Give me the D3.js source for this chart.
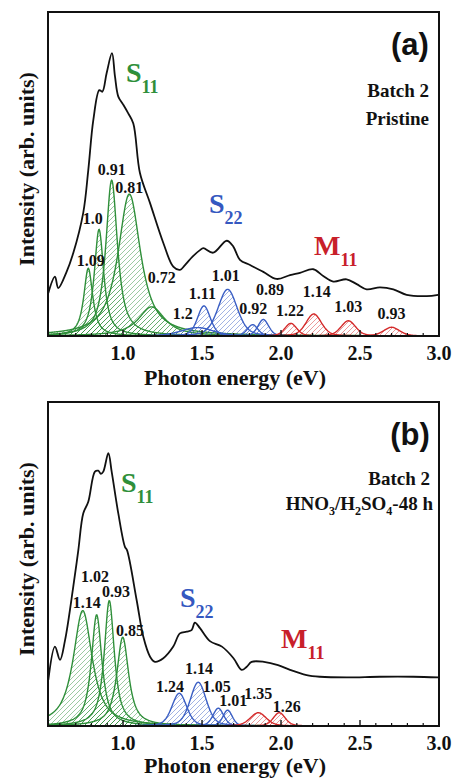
<!DOCTYPE html>
<html><head><meta charset="utf-8">
<script src="https://cdn.jsdelivr.net/npm/d3@7"></script>
<style>body{margin:0;background:#fff}svg{display:block}</style>
</head><body><svg id="c" width="453" height="779"></svg>
<script>
// ---------- DATA ----------
const xTicks = [1.0, 1.5, 2.0, 2.5, 3.0];
const xTickLabels = ["1.0", "1.5", "2.0", "2.5", "3.0"];

// Panel (a): Batch 2 Pristine — measured absorption spectrum
const specA_E = [0.527,0.569,0.590,0.640,0.685,0.748,0.780,0.812,0.850,0.869,0.896,0.930,0.949,0.970,1.000,1.033,1.065,1.107,1.171,1.255,1.318,1.360,1.392,1.440,1.487,1.508,1.571,1.656,1.698,1.740,1.804,1.888,1.972,2.057,2.120,2.204,2.267,2.331,2.415,2.479,2.542,2.626,2.711,2.795,2.922,2.995];
const specA_I = [13.3,18.3,14.8,19.5,25.6,38.0,51.2,66.7,75.9,75.4,81.1,87.3,80.1,73.9,71.5,68.7,65.6,50.3,41.0,28.7,21.4,20.4,21.9,24.5,26.5,27.1,25.7,29.4,27.6,23.5,21.9,19.8,17.6,18.8,19.5,20.6,18.5,16.8,17.5,16.0,14.4,15.0,14.4,12.7,12.3,12.7];

// Panel (a) fitted components: centre (eV), height, half width (eV), label, label anchor (eV, intensity)
const a_S11_center = [0.780, 0.848, 0.928, 1.040, 1.181];
const a_S11_height = [20.9, 32.9, 48.1, 43.8, 9.0];
const a_S11_width  = [0.034, 0.036, 0.044, 0.085, 0.10];
const a_S11_label  = ["1.09", "1.0", "0.91", "0.81", "0.72"];
const a_S11_labE   = [0.795, 0.808, 0.928, 1.040, 1.245];
const a_S11_labI   = [23.2, 36.3, 51.5, 45.9, 18.1];

const a_S22_center = [1.470, 1.512, 1.662, 1.820, 1.888];
const a_S22_height = [2.6, 9.3, 14.4, 3.5, 5.1];
const a_S22_width  = [0.12, 0.048, 0.072, 0.04, 0.04];
const a_S22_label  = ["1.2", "1.11", "1.01", "0.92", "0.89"];
const a_S22_labE   = [1.378, 1.502, 1.650, 1.824, 1.930];
const a_S22_labI   = [7.0, 13.2, 18.6, 8.5, 14.4];

const a_M11_center = [2.062, 2.207, 2.426, 2.700];
const a_M11_height = [3.9, 6.8, 4.7, 2.7];
const a_M11_width  = [0.045, 0.058, 0.055, 0.06];
const a_M11_label  = ["1.22", "1.14", "1.03", "0.93"];
const a_M11_labE   = [2.057, 2.226, 2.426, 2.700];
const a_M11_labI   = [7.8, 13.9, 9.0, 7.0];

// Panel (b): Batch 2 HNO3/H2SO4-48 h — measured spectrum
const specB_E = [0.527,0.569,0.601,0.633,0.685,0.717,0.748,0.780,0.822,0.843,0.860,0.875,0.907,0.928,0.970,1.012,1.025,1.086,1.128,1.171,1.202,1.255,1.318,1.360,1.403,1.434,1.455,1.487,1.550,1.626,1.698,1.751,1.783,1.814,1.892,1.981,2.057,2.162,2.247,2.416,2.626,2.837,2.995];
const specB_I = [14.2,24.5,20.4,26.5,43.0,54.3,65.6,69.2,78.5,78.8,77.8,78.5,84.2,78.5,65.6,55.3,54.3,38.9,27.6,21.4,19.8,20.9,24.5,28.6,29.1,29.6,31.9,30.2,26.2,24.5,21.0,17.3,18.3,19.8,19.8,18.8,17.3,15.7,15.2,15.0,15.2,15.2,15.0];

const b_S11_center = [0.745, 0.833, 0.913, 0.998];
const b_S11_height = [35.6, 34.3, 38.7, 27.4];
const b_S11_width  = [0.072, 0.040, 0.038, 0.045];
const b_S11_label  = ["1.14", "1.02", "0.93", "0.85"];
const b_S11_labE   = [0.770, 0.822, 0.955, 1.044];
const b_S11_labI   = [38.1, 46.3, 41.5, 29.6];

const b_S22_center = [1.356, 1.476, 1.603, 1.662];
const b_S22_height = [10.1, 13.5, 5.5, 4.9];
const b_S22_width  = [0.055, 0.06, 0.04, 0.035];
const b_S22_label  = ["1.24", "1.14", "1.05", "1.01"];
const b_S22_labE   = [1.297, 1.481, 1.593, 1.698];
const b_S22_labI   = [12.3, 17.8, 12.3, 7.8];

const b_M11_center = [1.856, 1.989];
const b_M11_height = [4.1, 4.1];
const b_M11_width  = [0.06, 0.045];
const b_M11_label  = ["1.35", "1.26"];
const b_M11_labE   = [1.856, 2.036];
const b_M11_labI   = [10.1, 6.2];

// ---------- DRAW ----------
const svg = d3.select("#c");
const COL = {S11: "#2f8f3a", S22: "#3b5fc4", M11: "#d42a2a"};
const TXT = {S11: "#2f8f3a", S22: "#3558c0", M11: "#c8202a"};
const SERIF = "'Liberation Serif','Times New Roman',serif";

const defs = svg.append("defs");
Object.entries(COL).forEach(([k, c]) => {
  const p = defs.append("pattern").attr("id", "h" + k).attr("patternUnits", "userSpaceOnUse")
    .attr("width", 5).attr("height", 5);
  p.append("path").attr("d", "M-1,1 l2,-2 M0,5 l5,-5 M4,6 l2,-2")
    .attr("stroke", c).attr("stroke-width", 0.8).attr("stroke-opacity", 0.6);
});

function shape(E, c, h, w, eta) {
  const u = (E - c) / w;
  return h * (eta / (1 + u * u) + (1 - eta) * Math.exp(-Math.LN2 * u * u));
}

function panel(opt) {
  const top = opt.top, bottom = opt.top + 324, left = 48, right = 439;
  const x = d3.scaleLinear().domain([0.525, 3.0]).range([left, right]);
  const y = d3.scaleLinear().domain([0, 100]).range([bottom, top]);
  const g = svg.append("g");
  const cid = "clip" + opt.name;
  defs.append("clipPath").attr("id", cid).append("rect")
    .attr("x", left).attr("y", top).attr("width", right - left).attr("height", bottom - top + 1);
  const pg = g.append("g").attr("clip-path", `url(#${cid})`);
  const grid = d3.range(0.525, 3.0001, 0.003);

  opt.groups.forEach(gr => {
    gr.center.forEach((c, i) => {
      const pts = grid.map(E => [E, shape(E, c, gr.height[i], gr.width[i], gr.eta)]);
      const area = d3.area().x(d => x(d[0])).y0(y(0)).y1(d => y(d[1]));
      const line = d3.line().x(d => x(d[0])).y(d => y(d[1]));
      pg.append("path").attr("d", area(pts)).attr("fill", `url(#h${gr.key})`);
      pg.append("path").attr("d", line(pts)).attr("fill", "none")
        .attr("stroke", COL[gr.key]).attr("stroke-width", 1.4);
    });
  });

  const spec = opt.specE.map((E, i) => [E, opt.specI[i]]);
  pg.append("path").attr("d", d3.line().x(d => x(d[0])).y(d => y(d[1])).curve(d3.curveCatmullRom.alpha(0.5))(spec))
    .attr("fill", "none").attr("stroke", "#111").attr("stroke-width", 1.8);

  // peak value labels
  opt.groups.forEach(gr => {
    gr.label.forEach((t, i) => {
      g.append("text").attr("x", x(gr.labE[i])).attr("y", y(gr.labI[i])).attr("dy", "0.35em")
        .attr("text-anchor", "middle").attr("font-family", SERIF).attr("font-weight", "bold")
        .attr("font-size", 16).attr("fill", "#111").text(t);
    });
  });

  // group labels
  opt.groupLabels.forEach(gl => {
    const t = g.append("text").attr("x", gl.x).attr("y", top + gl.y).attr("font-family", SERIF)
      .attr("font-weight", "bold").attr("fill", TXT[gl.key]);
    t.append("tspan").attr("font-size", 28).text(gl.main);
    t.append("tspan").attr("font-size", 18).attr("dy", 11).text(gl.sub);
  });

  // ticks (inside)
  const minor = d3.range(0.6, 3.0, 0.1).filter(v => Math.abs(v * 2 - Math.round(v * 2)) > 0.01);
  g.selectAll(null).data(minor).enter().append("line")
    .attr("x1", d => x(d)).attr("x2", d => x(d)).attr("y1", bottom).attr("y2", bottom - 3)
    .attr("stroke", "#111").attr("stroke-width", 1.2);
  g.selectAll(null).data(xTicks.slice(0, 4)).enter().append("line")
    .attr("x1", d => x(d)).attr("x2", d => x(d)).attr("y1", bottom).attr("y2", bottom - 6)
    .attr("stroke", "#111").attr("stroke-width", 1.4);
  // frame
  g.append("rect").attr("x", left).attr("y", top).attr("width", right - left).attr("height", bottom - top)
    .attr("fill", "none").attr("stroke", "#111").attr("stroke-width", 2);

  // tick labels
  g.selectAll(null).data(xTicks).enter().append("text")
    .attr("x", d => x(d)).attr("y", bottom + 17).attr("dy", "0.35em")
    .attr("text-anchor", "middle").attr("font-family", SERIF).attr("font-weight", "bold")
    .attr("font-size", 20).attr("fill", "#111").text((d, i) => xTickLabels[i]);
  g.append("text").attr("x", 235).attr("y", bottom + opt.titleOff).attr("dy", "0.35em").attr("text-anchor", "middle")
    .attr("font-family", SERIF).attr("font-weight", "bold").attr("font-size", 22).attr("fill", "#111")
    .text("Photon energy (eV)");
  g.append("text").attr("transform", `translate(26,${top + 157}) rotate(-90)`).attr("dy", "0.35em")
    .attr("text-anchor", "middle").attr("font-family", SERIF).attr("font-weight", "bold")
    .attr("font-size", 22).attr("fill", "#111").text("Intensity (arb. units)");

  // panel tag & description
  g.append("text").attr("x", 410).attr("y", top + 32).attr("dy", "0.35em").attr("text-anchor", "middle")
    .attr("font-family", "'Liberation Sans',Arial,sans-serif").attr("font-weight", "bold")
    .attr("font-size", 31).attr("fill", "#111").text(opt.tag);
  opt.desc(g, top);
}

panel({
  name: "a", top: 12, tag: "(a)", titleOff: 41, specE: specA_E, specI: specA_I,
  groups: [
    {key: "S11", eta: 0.9, center: a_S11_center, height: a_S11_height, width: a_S11_width, label: a_S11_label, labE: a_S11_labE, labI: a_S11_labI},
    {key: "S22", eta: 0.35, center: a_S22_center, height: a_S22_height, width: a_S22_width, label: a_S22_label, labE: a_S22_labE, labI: a_S22_labI},
    {key: "M11", eta: 0.35, center: a_M11_center, height: a_M11_height, width: a_M11_width, label: a_M11_label, labE: a_M11_labE, labI: a_M11_labI}
  ],
  groupLabels: [
    {key: "S11", main: "S", sub: "11", x: 126, y: 70},
    {key: "S22", main: "S", sub: "22", x: 209, y: 201},
    {key: "M11", main: "M", sub: "11", x: 314, y: 243}
  ],
  desc: (g, top) => {
    [["Batch 2", 78], ["Pristine", 106]].forEach(([t, yy]) => {
      g.append("text").attr("x", 429).attr("y", top + yy).attr("dy", "0.35em").attr("text-anchor", "end")
        .attr("font-family", SERIF).attr("font-weight", "bold").attr("font-size", 19).attr("fill", "#111").text(t);
    });
  }
});

panel({
  name: "b", top: 402, tag: "(b)", titleOff: 39, specE: specB_E, specI: specB_I,
  groups: [
    {key: "S11", eta: 0.9, center: b_S11_center, height: b_S11_height, width: b_S11_width, label: b_S11_label, labE: b_S11_labE, labI: b_S11_labI},
    {key: "S22", eta: 0.35, center: b_S22_center, height: b_S22_height, width: b_S22_width, label: b_S22_label, labE: b_S22_labE, labI: b_S22_labI},
    {key: "M11", eta: 0.35, center: b_M11_center, height: b_M11_height, width: b_M11_width, label: b_M11_label, labE: b_M11_labE, labI: b_M11_labI}
  ],
  groupLabels: [
    {key: "S11", main: "S", sub: "11", x: 121, y: 90},
    {key: "S22", main: "S", sub: "22", x: 180, y: 205},
    {key: "M11", main: "M", sub: "11", x: 281, y: 246}
  ],
  desc: (g, top) => {
    g.append("text").attr("x", 430).attr("y", top + 76).attr("dy", "0.35em").attr("text-anchor", "end")
      .attr("font-family", SERIF).attr("font-weight", "bold").attr("font-size", 19).attr("fill", "#111").text("Batch 2");
    const t = g.append("text").attr("x", 433).attr("y", top + 101).attr("dy", "0.35em").attr("text-anchor", "end")
      .attr("font-family", SERIF).attr("font-weight", "bold").attr("font-size", 19).attr("fill", "#111");
    t.append("tspan").text("HNO");
    t.append("tspan").attr("font-size", 12).attr("dy", 5).text("3");
    t.append("tspan").attr("dy", -5).text("/H");
    t.append("tspan").attr("font-size", 12).attr("dy", 5).text("2");
    t.append("tspan").attr("dy", -5).text("SO");
    t.append("tspan").attr("font-size", 12).attr("dy", 5).text("4");
    t.append("tspan").attr("dy", -5).text("-48 h");
  }
});
</script></body></html>
